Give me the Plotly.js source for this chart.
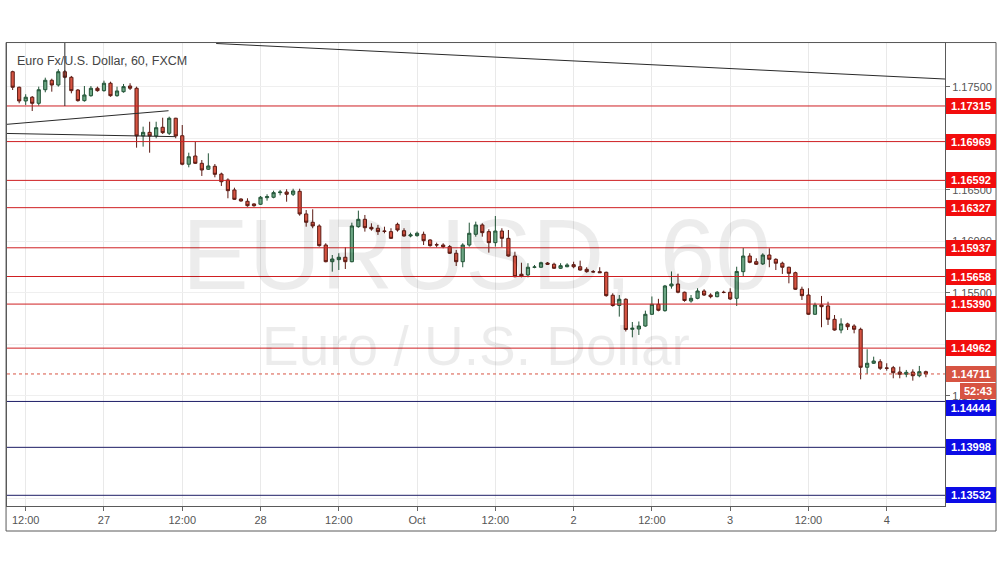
<!DOCTYPE html>
<html>
<head>
<meta charset="utf-8">
<script src="https://cdn.plot.ly/plotly-3.0.1.min.js"></script>
<style>
  html, body { margin: 0; padding: 0; background: #ffffff; }
  #chart { width: 1002px; height: 568px; }
</style>
</head>
<body>
<div id="chart"></div>
<script>
// ---- hourly sessions (date, first hour, last hour); weekend gap skipped ----
const sessions = [
  ["2018-09-26", 10, 23], ["2018-09-27", 0, 23], ["2018-09-28", 0, 16],
  ["2018-09-30", 17, 23], ["2018-10-01", 0, 23], ["2018-10-02", 0, 23],
  ["2018-10-03", 0, 23], ["2018-10-04", 0, 6]
];

const opens = [
  1.17648,1.17497,1.17364,1.17400,1.17341,1.17473,1.17565,1.17519,1.17648,1.17594,
  1.17470,1.17367,1.17415,1.17487,1.17464,1.17536,1.17415,1.17454,1.17509,1.17487,
  1.17024,1.17059,1.17024,1.17108,1.17050,1.17196,1.17026,1.16749,1.16829,1.16758,
  1.16700,1.16729,1.16654,1.16596,1.16499,1.16411,1.16389,1.16363,1.16360,1.16424,
  1.16428,1.16473,1.16479,1.16457,1.16486,1.16266,1.16185,1.16149,1.15964,1.15802,
  1.15822,1.15845,1.15802,1.16142,1.16214,1.16136,1.16127,1.16100,1.16094,1.16165,
  1.16103,1.16052,1.16055,1.16068,1.16013,1.15967,1.15964,1.15948,1.15884,1.15802,
  1.15964,1.16068,1.16159,1.16094,1.15987,1.16100,1.16029,1.15857,1.15680,1.15673,
  1.15748,1.15748,1.15789,1.15777,1.15738,1.15753,1.15773,1.15753,1.15728,1.15705,
  1.15705,1.15699,1.15476,1.15376,1.15437,1.15145,1.15148,1.15177,1.15291,1.15388,
  1.15326,1.15566,1.15585,1.15505,1.15420,1.15446,1.15517,1.15478,1.15462,1.15505,
  1.15505,1.15446,1.15705,1.15857,1.15802,1.15780,1.15867,1.15825,1.15787,1.15748,
  1.15695,1.15534,1.15478,1.15291,1.15381,1.15372,1.15242,1.15138,1.15197,1.15177,
  1.15145,1.14776,1.14815,1.14830,1.14769,1.14772,1.14730,1.14708,1.14730,1.14694,
  1.14733
];
const highs = [
  1.17658,1.17503,1.17429,1.17412,1.17503,1.17590,1.17580,1.17672,1.17665,1.17607,
  1.17480,1.17509,1.17509,1.17503,1.17561,1.17551,1.17503,1.17529,1.17536,1.17503,
  1.17114,1.17162,1.17162,1.17201,1.17211,1.17200,1.17130,1.16861,1.16968,1.16790,
  1.16855,1.16751,1.16667,1.16612,1.16521,1.16418,1.16418,1.16369,1.16440,1.16457,
  1.16492,1.16499,1.16506,1.16511,1.16511,1.16304,1.16311,1.16165,1.15981,1.15867,
  1.15884,1.15942,1.16181,1.16298,1.16256,1.16175,1.16159,1.16142,1.16127,1.16181,
  1.16127,1.16084,1.16094,1.16094,1.16020,1.15987,1.15981,1.15964,1.15916,1.15981,
  1.16181,1.16191,1.16175,1.16117,1.16246,1.16127,1.16110,1.15899,1.15792,1.15787,
  1.15770,1.15802,1.15799,1.15792,1.15787,1.15787,1.15802,1.15812,1.15748,1.15721,
  1.15748,1.15705,1.15495,1.15478,1.15446,1.15216,1.15221,1.15326,1.15464,1.15441,
  1.15576,1.15707,1.15685,1.15511,1.15478,1.15544,1.15534,1.15495,1.15517,1.15520,
  1.15544,1.15753,1.15935,1.15884,1.15835,1.15884,1.15932,1.15835,1.15802,1.15753,
  1.15705,1.15559,1.15544,1.15404,1.15469,1.15413,1.15284,1.15252,1.15209,1.15194,
  1.15161,1.14951,1.14879,1.14854,1.14815,1.14789,1.14782,1.14750,1.14756,1.14789,
  1.14743
];
const lows = [
  1.17470,1.17341,1.17325,1.17266,1.17318,1.17448,1.17454,1.17503,1.17584,1.17438,
  1.17357,1.17357,1.17405,1.17454,1.17454,1.17405,1.17405,1.17444,1.17470,1.16910,
  1.16920,1.16861,1.17001,1.17043,1.17033,1.17001,1.16739,1.16719,1.16751,1.16635,
  1.16693,1.16622,1.16538,1.16418,1.16402,1.16385,1.16336,1.16336,1.16353,1.16395,
  1.16418,1.16447,1.16385,1.16440,1.16249,1.16142,1.16127,1.15948,1.15796,1.15705,
  1.15721,1.15731,1.15796,1.16132,1.16094,1.16103,1.16062,1.16078,1.16023,1.16094,
  1.16045,1.16039,1.16045,1.15964,1.15948,1.15942,1.15932,1.15877,1.15760,1.15748,
  1.15948,1.16045,1.16045,1.15890,1.15948,1.15942,1.15851,1.15650,1.15650,1.15650,
  1.15738,1.15744,1.15770,1.15731,1.15731,1.15748,1.15738,1.15715,1.15695,1.15695,
  1.15693,1.15462,1.15365,1.15268,1.15124,1.15067,1.15090,1.15170,1.15284,1.15320,
  1.15316,1.15540,1.15495,1.15413,1.15404,1.15437,1.15469,1.15446,1.15456,1.15495,
  1.15430,1.15372,1.15656,1.15787,1.15770,1.15770,1.15748,1.15721,1.15683,1.15592,
  1.15527,1.15430,1.15284,1.15284,1.15165,1.15187,1.15132,1.15106,1.15138,1.15106,
  1.14659,1.14711,1.14808,1.14750,1.14743,1.14669,1.14669,1.14679,1.14646,1.14679,
  1.14679
];
const closes = [
  1.17497,1.17364,1.17400,1.17341,1.17473,1.17565,1.17519,1.17648,1.17594,1.17464,
  1.17367,1.17422,1.17487,1.17464,1.17536,1.17415,1.17461,1.17503,1.17487,1.17024,
  1.17059,1.17024,1.17104,1.17056,1.17196,1.17024,1.16749,1.16822,1.16758,1.16693,
  1.16732,1.16651,1.16579,1.16492,1.16408,1.16392,1.16346,1.16346,1.16428,1.16434,
  1.16473,1.16479,1.16457,1.16489,1.16266,1.16185,1.16149,1.15958,1.15802,1.15828,
  1.15845,1.15802,1.16149,1.16214,1.16132,1.16120,1.16094,1.16097,1.16029,1.16110,
  1.16052,1.16062,1.16078,1.16006,1.15958,1.15965,1.15948,1.15884,1.15802,1.15964,
  1.16078,1.16159,1.16084,1.15987,1.16100,1.16029,1.15857,1.15656,1.15663,1.15748,
  1.15750,1.15792,1.15777,1.15738,1.15763,1.15770,1.15753,1.15721,1.15705,1.15703,
  1.15695,1.15472,1.15376,1.15437,1.15143,1.15155,1.15177,1.15291,1.15388,1.15330,
  1.15566,1.15585,1.15505,1.15425,1.15446,1.15517,1.15478,1.15462,1.15505,1.15503,
  1.15440,1.15707,1.15857,1.15796,1.15777,1.15867,1.15825,1.15787,1.15748,1.15689,
  1.15534,1.15472,1.15291,1.15381,1.15365,1.15242,1.15138,1.15197,1.15170,1.15145,
  1.14776,1.14815,1.14837,1.14766,1.14767,1.14723,1.14708,1.14727,1.14694,1.14733,
  1.14711
];

// horizontal levels drawn on the chart
const redLevels  = [1.17315, 1.16969, 1.16592, 1.16327, 1.15937, 1.15658, 1.15390, 1.14962];
const blueLevels = [1.14444, 1.13998, 1.13532];
const lastPrice = 1.14711;
const countdown = "52:43";

// axis ticks
const xTickTimes  = ["2018-09-26 12:00","2018-09-27 00:00","2018-09-27 12:00","2018-09-28 00:00",
                     "2018-09-28 12:00","2018-10-01 00:00","2018-10-01 12:00","2018-10-02 00:00",
                     "2018-10-02 12:00","2018-10-03 00:00","2018-10-03 12:00","2018-10-04 00:00"];
const xTickLabels = ["12:00","27","12:00","28","12:00","Oct","12:00","2","12:00","3","12:00","4"];
const yTickVals   = [1.135, 1.140, 1.145, 1.150, 1.155, 1.160, 1.165, 1.170, 1.175];
// tick labels fully hidden behind the level boxes are left blank
const yTickLabels = ["", "", "1.14500", "", "1.15500", "1.16000", "1.16500", "", "1.17500"];

// drawn trend lines [x0, y0, x1, y1]
const trendLines = [
  ["2018-09-27 17:12", 1.17922, "2018-10-04 08:56", 1.17577],
  ["2018-09-26 09:08", 1.17137, "2018-09-27 09:54", 1.17269],
  ["2018-09-26 09:08", 1.17048, "2018-09-27 10:56", 1.17017],
  ["2018-09-26 18:00", 1.17315, "2018-09-26 18:00", 1.17927]
];

const titleText = "Euro Fx/U.S. Dollar, 60, FXCM";
const watermark1 = "EURUSD, 60";
const watermark2 = "Euro / U.S. Dollar";

// ---- build times ----
const times = [];
sessions.forEach(([d, a, b]) => {
  for (let h = a; h <= b; h++) times.push(d + " " + String(h).padStart(2, "0") + ":00");
});

const FONT = "Liberation Sans, Arial, sans-serif";
const RED_LINE = "#cf1f22", RED_BOX = "#f20d0d";
const BLUE_LINE = "#1d1d66", BLUE_BOX = "#0c0ce6";
const LAST_COL = "#d75442";

const trace = {
  type: "candlestick",
  x: times, open: opens, high: highs, low: lows, close: closes,
  increasing: { line: { color: "#225437", width: 1 }, fillcolor: "#6ba583" },
  decreasing: { line: { color: "#5b1a13", width: 1 }, fillcolor: "#d75442" },
  whiskerwidth: 0,
  showlegend: false,
  hoverinfo: "skip"
};

const shapes = [];
redLevels.forEach(v => shapes.push({ type: "line", xref: "paper", x0: 0, x1: 1, yref: "y", y0: v, y1: v,
  line: { color: RED_LINE, width: 1 } }));
blueLevels.forEach(v => shapes.push({ type: "line", xref: "paper", x0: 0, x1: 1, yref: "y", y0: v, y1: v,
  line: { color: BLUE_LINE, width: 1 } }));
shapes.push({ type: "line", xref: "paper", x0: 0, x1: 1, yref: "y", y0: lastPrice, y1: lastPrice,
  line: { color: LAST_COL, width: 1, dash: "dot" } });
trendLines.forEach(t => shapes.push({ type: "line", xref: "x", yref: "y", x0: t[0], y0: t[1], x1: t[2], y1: t[3],
  line: { color: "#2a2a2a", width: 1 } }));
// outer frame around chart + axis areas
shapes.push({ type: "rect", xref: "paper", yref: "paper", x0: -0.001, x1: 1.0544, y0: -0.054, y1: 1.001,
  line: { color: "#5a5a5a", width: 1 }, fillcolor: "rgba(0,0,0,0)", layer: "above" });

const annotations = [
  { xref: "paper", yref: "paper", x: 0.0085, y: 0.962, xanchor: "left", yanchor: "middle",
    text: titleText, showarrow: false, font: { family: FONT, size: 12.5, color: "#444444" } },
  { xref: "paper", yref: "paper", x: 0.5, y: 0.545, xanchor: "center", yanchor: "middle",
    text: watermark1, showarrow: false, font: { family: FONT, size: 100, color: "rgba(0,0,0,0.075)" } },
  { xref: "paper", yref: "paper", x: 0.5, y: 0.345, xanchor: "center", yanchor: "middle",
    text: watermark2, showarrow: false, font: { family: FONT, size: 55, color: "rgba(0,0,0,0.075)" } }
];
function levelLabel(v, bg, yshift, txt) {
  return { xref: "paper", yref: "y", x: 1, y: v, xanchor: "left", yanchor: "middle", xshift: 0.5, yshift: yshift || 0,
    text: "<b>" + (txt || v.toFixed(5)) + "</b>", showarrow: false, bgcolor: bg, borderwidth: 0,
    borderpad: 2, width: 46, height: 12, align: "center",
    font: { family: FONT, size: 11, color: "#ffffff" } };
}
redLevels.forEach(v => annotations.push(levelLabel(v, RED_BOX)));
// the first support label is pushed down a little by the countdown box, as in the reference
blueLevels.forEach((v, i) => annotations.push(levelLabel(v, BLUE_BOX, i === 0 ? -7 : 0)));
annotations.push(levelLabel(lastPrice, LAST_COL));
const cd = levelLabel(lastPrice, LAST_COL, -17, countdown);
cd.width = 32; cd.xshift = 15;
annotations.push(cd);

const layout = {
  width: 1002, height: 568,
  margin: { l: 7, r: 57, t: 43, b: 62, pad: 0 },
  paper_bgcolor: "#ffffff", plot_bgcolor: "#ffffff",
  showlegend: false,
  dragmode: false,
  xaxis: {
    type: "date",
    range: ["2018-09-26 09:08", "2018-10-04 08:56"],
    rangebreaks: [{ bounds: ["2018-09-28 16:30", "2018-09-30 16:30"] }],
    rangeslider: { visible: false },
    tickmode: "array", tickvals: xTickTimes, ticktext: xTickLabels,
    ticks: "outside", ticklen: 4, tickcolor: "#666",
    showgrid: true, gridcolor: "#e9e9e9", gridwidth: 1,
    showline: true, linecolor: "#5a5a5a", linewidth: 1, mirror: true,
    zeroline: false,
    tickfont: { family: FONT, size: 11, color: "#555" }
  },
  yaxis: {
    side: "right",
    range: [1.13428, 1.17927],
    tickmode: "array", tickvals: yTickVals, ticktext: yTickLabels,
    ticks: "outside", ticklen: 4, tickcolor: "#666",
    showgrid: true, gridcolor: "#efefef", gridwidth: 1,
    showline: true, linecolor: "#5a5a5a", linewidth: 1, mirror: true,
    zeroline: false,
    tickfont: { family: FONT, size: 11, color: "#555" }
  },
  shapes: shapes,
  annotations: annotations
};

Plotly.newPlot("chart", [trace], layout, { displayModeBar: false, staticPlot: true });
</script>
</body>
</html>
